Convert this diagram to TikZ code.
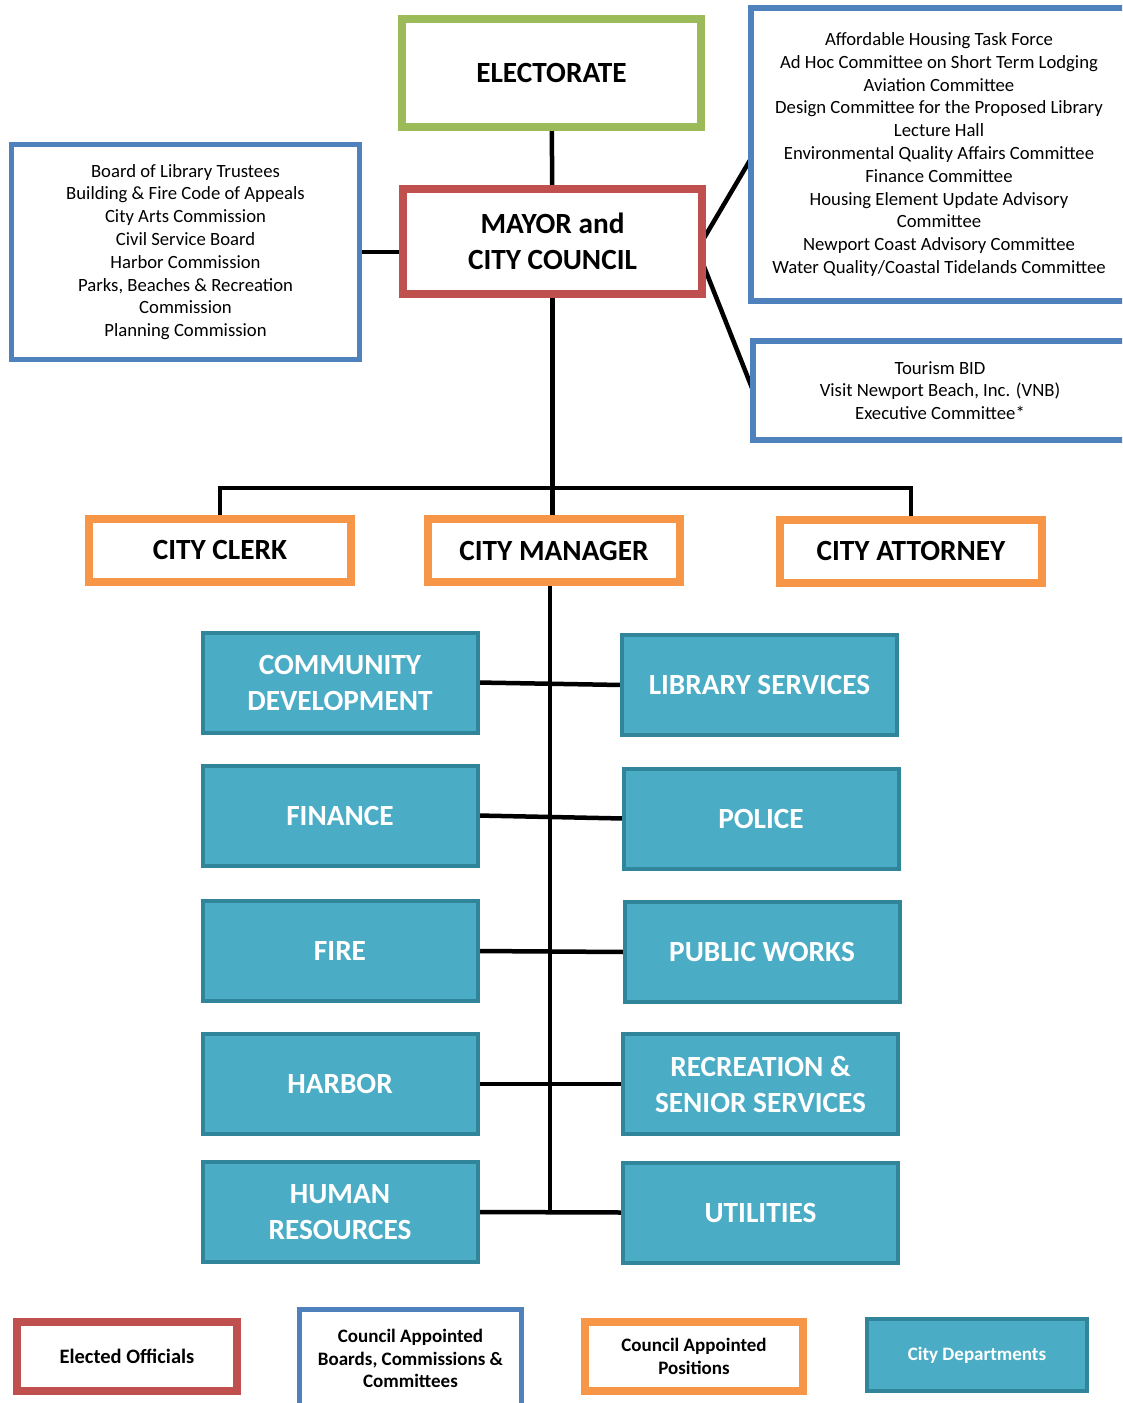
\documentclass[tikz,border=0pt]{standalone}
\usepackage{fontspec}
\setmainfont{Carlito}
\usetikzlibrary{backgrounds}
\definecolor{elect_green}{RGB}{155,187,89}
\definecolor{elect_red}{RGB}{192,80,77}
\definecolor{board_blue}{RGB}{79,129,189}
\definecolor{post_orange}{RGB}{247,150,70}
\definecolor{dept_fill}{RGB}{75,172,198}
\definecolor{dept_edge}{RGB}{49,133,155}
\newcommand{\bigfont}{\fontsize{29.3}{36}\selectfont\bfseries}
\newcommand{\listfont}{\fontsize{18.7}{22.8}\selectfont}
\newcommand{\legfont}{\fontsize{19}{22.5}\selectfont\bfseries}

\begin{document}
\begin{tikzpicture}[x=1pt,y=-1pt]
    \tikzset{box/.style={draw, rectangle, fill=white, inner sep=0pt, outer sep=0pt, align=center, text=black},
             voters/.style={box, draw=elect_green, line width=8pt, font=\bigfont},
             elected/.style={box, draw=elect_red, line width=8pt, font=\bigfont},
             board/.style={box, draw=board_blue, line width=5.5pt, font=\listfont},
             post/.style={box, draw=post_orange, line width=8pt, font=\bigfont, minimum width=262pt, minimum height=63pt},
             dept/.style={box, draw=dept_edge, fill=dept_fill, line width=4pt, text=white, font=\bigfont, minimum width=275pt, minimum height=100pt},
             link/.style={line width=4.5pt, black}}
    \clip (0,0) rectangle (1122,1403);

    % top of the chart
    \node[voters, minimum width=299pt, minimum height=108pt] (elect) at (551.5,73) {ELECTORATE};
    \node[elected, minimum width=299pt, minimum height=105pt] (mayor) at (552.5,241.5) {MAYOR and\\CITY COUNCIL};
    \node[board, minimum width=348pt, minimum height=215pt] (boards) at (185.5,252)
      {Board of Library Trustees\\Building \& Fire Code of Appeals\\City Arts Commission\\Civil Service Board\\Harbor Commission\\Parks, Beaches \& Recreation\\Commission\\Planning Commission};
    \node[board, minimum width=376pt, minimum height=293pt] (cmtes) at (939,154.5)
      {Affordable Housing Task Force\\Ad Hoc Committee on Short Term Lodging\\Aviation Committee\\Design Committee for the Proposed Library\\Lecture Hall\\Environmental Quality Affairs Committee\\Finance Committee\\Housing Element Update Advisory\\Committee\\Newport Coast Advisory Committee\\Water Quality/Coastal Tidelands Committee};
    \node[board, minimum width=374pt, minimum height=99pt] (tourism) at (940,390.5)
      {Tourism BID\\Visit Newport Beach, Inc. (VNB)\\Executive Committee*};

    % appointed positions
    \node[post] (clerk)    at (220,550)   {CITY CLERK};
    \node[post, minimum width=252pt] (manager) at (554,550.5) {CITY MANAGER};
    \node[post] (attorney) at (911,551)   {CITY ATTORNEY};

    % departments
    \node[dept] (comdev)  at (340,682.5)  {COMMUNITY\\DEVELOPMENT};
    \node[dept] (finance) at (340,815.5)  {FINANCE};
    \node[dept] (fire)    at (340,951)    {FIRE};
    \node[dept] (harbor)  at (340,1084)   {HARBOR};
    \node[dept] (hr)      at (340,1212)   {HUMAN\\RESOURCES};
    \node[dept] (library) at (759.5,685)  {LIBRARY SERVICES};
    \node[dept] (police)  at (761,818.5)  {POLICE};
    \node[dept] (pworks)  at (762,952)    {PUBLIC WORKS};
    \node[dept] (rec)     at (760.5,1084) {RECREATION \&\\SENIOR SERVICES};
    \node[dept] (utils)   at (760.5,1212.5) {UTILITIES};

    % legend
    \node[elected, minimum width=220pt, minimum height=69pt, font=\fontsize{20.5}{24}\selectfont\bfseries] (leg_elect) at (127,1356.5) {Elected Officials};
    \node[board, minimum width=222pt, minimum height=98pt, font=\legfont] (leg_board) at (410.5,1358.5) {Council Appointed\\Boards, Commissions \&\\Committees};
    \node[post, minimum width=218pt, minimum height=69pt, font=\legfont] (leg_post) at (694,1356.5) {Council Appointed\\Positions};
    \node[dept, minimum width=220pt, minimum height=72pt, font=\legfont] (leg_dept) at (977,1355) {City Departments};

    \coordinate (bar) at (553,488);
    \coordinate (spine) at (550,1213);

    \begin{scope}[on background layer]
      \draw[link] (elect) -- (mayor);
      \draw[link] (boards.east) -- (boards.east -| mayor.west);
      \draw[link] (mayor.east) -- ([yshift=-4pt]cmtes.west);
      \draw[link] ([yshift=-20pt]mayor.east) -- (tourism.west);
      \draw[link] (mayor.south) -- (mayor.south |- manager.north);
      \draw[link] (clerk.north) |- (bar) -| (attorney.north);
      \draw[link] (manager.south -| spine) -- (spine);
      \draw[link] (comdev.east)  -- (library.west);
      \draw[link] (finance.east) -- (police.west);
      \draw[link] (fire.east)    -- (pworks.west);
      \draw[link] (harbor.east)  -- (rec.west);
      \draw[link] (hr.east)      -- (utils.west);
    \end{scope}
\end{tikzpicture}
\end{document}
